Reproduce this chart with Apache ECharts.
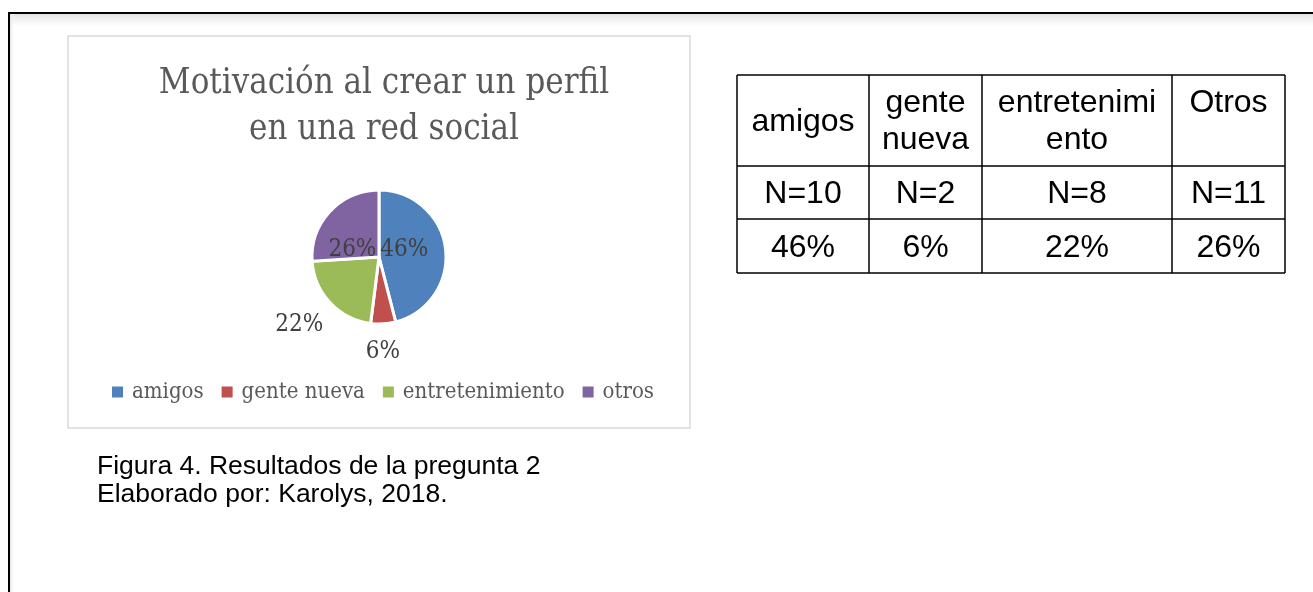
<!DOCTYPE html>
<html><head><meta charset="utf-8">
<script src="https://cdn.jsdelivr.net/npm/echarts@6/dist/echarts.min.js"></script>
<style>html,body{margin:0;padding:0;background:#fff;}#c{width:1313px;height:592px;}</style>
</head><body><div id="c"></div>
<script>
// ---- data ----
const categories = ['amigos', 'gente nueva', 'entretenimiento', 'otros'];
const percentValues = [46, 6, 22, 26];
const tableHeaders = ['amigos', 'gente\nnueva', 'entretenimi\nento', 'Otros'];
const tableCounts = ['N=10', 'N=2', 'N=8', 'N=11'];
const tablePercents = ['46%', '6%', '22%', '26%'];
const titleText = 'Motivación al crear un perfil\nen una red social';
const captionLines = ['Figura 4. Resultados de la pregunta 2', 'Elaborado por: Karolys, 2018.'];

// ---- layout / style ----
const colors = ['#4F81BD', '#C0504D', '#9BBB59', '#8064A2'];
const serif = '"DejaVu Serif Condensed", "DejaVu Serif", serif';
const sans = '"Liberation Sans", Arial, sans-serif';
const labelPos = ['inside', 'outside', 'outside', 'inside'];
const labelOffset = [[-11, -3], [-23, 20], [4, 16], [0, 18]];
const colEdges = [737, 869, 982, 1172, 1285];
const rowEdges = [75, 166, 219, 273];
const headerAlign = ['middle', 'top', 'top', 'top'];

const chart = echarts.init(document.getElementById('c'), null, {renderer: 'canvas'});

const graphics = [];
// outer frame shadow + border
graphics.push({type: 'rect', shape: {x: 10, y: 14, width: 1310, height: 12}, z: 0,
  style: {fill: new echarts.graphic.LinearGradient(0, 0, 0, 1, [{offset: 0, color: '#e4e4e4'}, {offset: 1, color: '#ffffff'}])}});
graphics.push({type: 'rect', shape: {x: 10, y: 14, width: 5, height: 590}, z: 0,
  style: {fill: new echarts.graphic.LinearGradient(0, 0, 1, 0, [{offset: 0, color: '#e4e4e4'}, {offset: 1, color: 'rgba(255,255,255,0)'}])}});
graphics.push({type: 'rect', shape: {x: 9, y: 13, width: 1320, height: 600}, z: 1,
  style: {fill: 'none', stroke: '#000', lineWidth: 2}});
// chart box
graphics.push({type: 'rect', shape: {x: 68, y: 36, width: 622, height: 392}, z: 1,
  style: {fill: '#fff', stroke: '#d9d9d9', lineWidth: 1.5}});
// table lines
for (const x of colEdges) graphics.push({type: 'line', z: 5, shape: {x1: x, y1: rowEdges[0], x2: x, y2: rowEdges[rowEdges.length - 1]}, style: {stroke: '#000', lineWidth: 1.5}});
for (const y of rowEdges) graphics.push({type: 'line', z: 5, shape: {x1: colEdges[0], y1: y, x2: colEdges[colEdges.length - 1], y2: y}, style: {stroke: '#000', lineWidth: 1.5}});
const rows = [tableHeaders, tableCounts, tablePercents];
rows.forEach((row, r) => {
  row.forEach((txt, c) => {
    const cx = (colEdges[c] + colEdges[c + 1]) / 2;
    let y, va;
    if (r === 0 && headerAlign[c] === 'top') { y = rowEdges[0] + 10; va = 'top'; }
    else { y = (rowEdges[r] + rowEdges[r + 1]) / 2 + 2; va = 'middle'; }
    graphics.push({type: 'text', z: 5, x: cx, y: y,
      style: {text: txt, fill: '#000', font: '32px ' + sans, textAlign: 'center', textVerticalAlign: va, lineHeight: 37}});
  });
});
// caption
captionLines.forEach((t, i) => {
  graphics.push({type: 'text', z: 5, x: 97, y: 467 + i * 28,
    style: {text: t, fill: '#000', font: '26.5px ' + sans, textAlign: 'left', textVerticalAlign: 'middle'}});
});

chart.setOption({
  animation: false,
  color: colors,
  title: {
    text: titleText, left: 379, top: 56, textAlign: 'center',
    textStyle: {fontFamily: serif, fontSize: 34.5, fontWeight: 'normal', color: '#595959', lineHeight: 46}
  },
  legend: {
    data: categories, left: 107, top: 376, icon: 'rect', itemWidth: 11, itemHeight: 11, itemGap: 18,
    itemStyle: {borderWidth: 0},
    textStyle: {fontFamily: serif, fontSize: 22, color: '#595959', padding: [0, 0, 0, 4]}
  },
  graphic: graphics,
  series: [{
    type: 'pie', center: [379, 257], radius: 67, startAngle: 90, clockwise: true,
    itemStyle: {borderColor: '#fff', borderWidth: 3},
    label: {fontFamily: serif, fontSize: 24, color: '#404040', formatter: p => p.value + '%'},
    labelLine: {show: false, length: 8, length2: 0},
    data: categories.map((n, i) => ({
      name: n, value: percentValues[i],
      label: {position: labelPos[i], offset: labelOffset[i]}
    }))
  }]
});
</script></body></html>
